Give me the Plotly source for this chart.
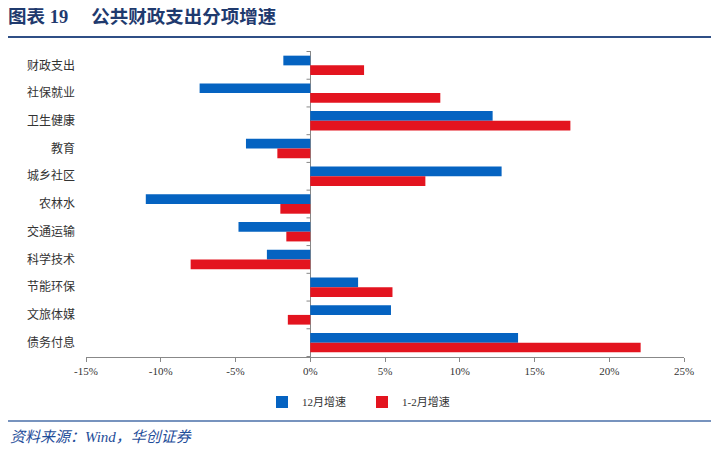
import plotly.graph_objects as go

categories = ["财政支出", "社保就业", "卫生健康", "教育", "城乡社区", "农林水",
              "交通运输", "科学技术", "节能环保", "文旅体媒", "债务付息"]
dec_growth = [-1.8, -7.4, 12.2, -4.3, 12.8, -11.0, -4.8, -2.9, 3.2, 5.4, 13.9]
janfeb_growth = [3.6, 8.7, 17.4, -2.2, 7.7, -2.0, -1.6, -8.0, 5.5, -1.5, 22.1]
series_names = ["12月增速", "1-2月增速"]
x_ticks = [-15, -10, -5, 0, 5, 10, 15, 20, 25]
x_ticklabels = [f"{v}%" for v in x_ticks]

# page body has an 8px margin, so the figure is sized to fit the window
OFF = 8
W, H = 719 - OFF, 454 - OFF
L, R, T, B = 86 - OFF, 35, 51 - OFF, 97
pw, ph = W - L - R, H - T - B

def px_x(p):  # reference-pixel -> paper coordinate
    return (p - OFF - L) / pw

def px_y(p):
    return (H - B - (p - OFF)) / ph

FONT = "Liberation Serif, Noto Sans CJK SC, serif"
BLUE = "#0563C1"
RED = "#E3141F"

fig = go.Figure()
fig.add_trace(go.Bar(y=categories, x=dec_growth, orientation="h", name=series_names[0],
                     marker=dict(color=BLUE, line=dict(width=0))))
fig.add_trace(go.Bar(y=categories, x=janfeb_growth, orientation="h", name=series_names[1],
                     marker=dict(color=RED, line=dict(width=0))))

shapes = []
# small tick marks along the zero line at category boundaries
for i in range(len(categories) + 1):
    shapes.append(dict(type="line", xref="x", yref="y", x0=-0.25, x1=0,
                       y0=i - 0.5, y1=i - 0.5, line=dict(color="#888888", width=1)))
# header and footer rules
shapes.append(dict(type="line", xref="paper", yref="paper", x0=px_x(8), x1=px_x(716),
                   y0=px_y(37), y1=px_y(37), line=dict(color="#2F4F86", width=2)))
shapes.append(dict(type="line", xref="paper", yref="paper", x0=px_x(8), x1=px_x(716),
                   y0=px_y(421), y1=px_y(421), line=dict(color="#4A6FA8", width=1.5)))

fig.update_layout(
    width=W, height=H,
    margin=dict(l=L, r=R, t=T, b=B, autoexpand=False),
    paper_bgcolor="white", plot_bgcolor="white",
    barmode="group", bargap=0.3, bargroupgap=0,
    font=dict(family=FONT, size=12, color="#333333"),
    title=dict(text="<b>图表 19　 公共财政支出分项增速</b>", x=0.0, xanchor="left",
               y=1 - (17 - OFF) / H, yanchor="middle",
               font=dict(family=FONT, size=18.5, color="#1F3A6E")),
    xaxis=dict(range=[-15, 25], tickvals=x_ticks, ticktext=x_ticklabels,
               showgrid=False, zeroline=True, zerolinecolor="#888888", zerolinewidth=1,
               showline=True, linecolor="#888888", linewidth=1,
               ticks="outside", ticklen=4, tickcolor="#888888",
               tickfont=dict(size=11, color="#333333")),
    yaxis=dict(autorange="reversed", showgrid=False, showline=False, ticks="",
               ticklabelstandoff=10, tickfont=dict(size=12, color="#333333")),
    legend=dict(orientation="h", x=px_x(362), xanchor="center", y=px_y(402), yanchor="middle",
                font=dict(size=11, color="#333333"), itemwidth=30, traceorder="normal",
                entrywidth=55, entrywidthmode="pixels",
                bgcolor="rgba(0,0,0,0)"),
    shapes=shapes,
    annotations=[dict(text="<i>资料来源：Wind，华创证券</i>", xref="paper", yref="paper",
                      x=px_x(8), y=px_y(437), xanchor="left", yanchor="middle", showarrow=False,
                      font=dict(family=FONT, size=15, color="#1F4E9A"))],
)

fig.write_html("out.html")
